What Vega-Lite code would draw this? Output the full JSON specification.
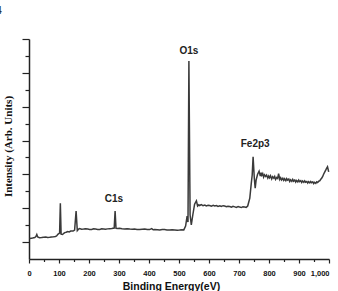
{
  "$schema": "https://vega.github.io/schema/vega-lite/v6.json",
  "width": 300,
  "height": 220,
  "autosize": "none",
  "padding": {"left": 29, "top": 39, "right": 9, "bottom": 32},
  "background": "white",
  "config": {
    "view": {"stroke": null},
    "axis": {"grid": false, "domainColor": "#222", "tickColor": "#222", "domainWidth": 1.5, "tickWidth": 1.2, "labelColor": "#111", "titleColor": "#111"}
  },
  "title": {"text": "4", "anchor": "start", "frame": "group", "dx": -33, "offset": 22, "fontSize": 10, "fontWeight": "bold", "color": "#333"},
  "datasets": {
    "spectrum": [
      {"eV": 2, "v": 1.21}, {"eV": 8, "v": 1.23}, {"eV": 12, "v": 1.24}, {"eV": 19, "v": 1.27}, {"eV": 23, "v": 1.33},
      {"eV": 26, "v": 1.45}, {"eV": 29, "v": 1.30}, {"eV": 35, "v": 1.26}, {"eV": 42, "v": 1.27}, {"eV": 49, "v": 1.29},
      {"eV": 56, "v": 1.30}, {"eV": 62, "v": 1.27}, {"eV": 69, "v": 1.28}, {"eV": 75, "v": 1.30}, {"eV": 82, "v": 1.31},
      {"eV": 88, "v": 1.33}, {"eV": 92, "v": 1.36}, {"eV": 97, "v": 1.47}, {"eV": 102, "v": 1.53}, {"eV": 104.5, "v": 3.29},
      {"eV": 107, "v": 1.47}, {"eV": 112, "v": 1.45}, {"eV": 116, "v": 1.52}, {"eV": 119, "v": 1.56}, {"eV": 124, "v": 1.58},
      {"eV": 129, "v": 1.62}, {"eV": 134, "v": 1.60}, {"eV": 139, "v": 1.65}, {"eV": 147, "v": 1.65}, {"eV": 152, "v": 1.71},
      {"eV": 157, "v": 2.83}, {"eV": 161, "v": 1.68}, {"eV": 165, "v": 1.76}, {"eV": 169, "v": 1.80}, {"eV": 175, "v": 1.76},
      {"eV": 182, "v": 1.77}, {"eV": 189, "v": 1.79}, {"eV": 196, "v": 1.77}, {"eV": 202, "v": 1.75}, {"eV": 209, "v": 1.74},
      {"eV": 215, "v": 1.78}, {"eV": 222, "v": 1.77}, {"eV": 229, "v": 1.75}, {"eV": 236, "v": 1.75}, {"eV": 242, "v": 1.78},
      {"eV": 249, "v": 1.77}, {"eV": 255, "v": 1.76}, {"eV": 262, "v": 1.78}, {"eV": 269, "v": 1.79}, {"eV": 276, "v": 1.80},
      {"eV": 284, "v": 1.83}, {"eV": 287, "v": 2.83}, {"eV": 290, "v": 1.81}, {"eV": 296, "v": 1.80}, {"eV": 302, "v": 1.81},
      {"eV": 310, "v": 1.79}, {"eV": 319, "v": 1.78}, {"eV": 327, "v": 1.79}, {"eV": 336, "v": 1.77}, {"eV": 344, "v": 1.76},
      {"eV": 352, "v": 1.77}, {"eV": 360, "v": 1.75}, {"eV": 369, "v": 1.75}, {"eV": 377, "v": 1.76}, {"eV": 386, "v": 1.77},
      {"eV": 394, "v": 1.74}, {"eV": 402, "v": 1.74}, {"eV": 409, "v": 1.80}, {"eV": 414, "v": 1.73}, {"eV": 419, "v": 1.74},
      {"eV": 428, "v": 1.73}, {"eV": 436, "v": 1.72}, {"eV": 444, "v": 1.74}, {"eV": 452, "v": 1.74}, {"eV": 460, "v": 1.72},
      {"eV": 469, "v": 1.71}, {"eV": 477, "v": 1.73}, {"eV": 486, "v": 1.72}, {"eV": 494, "v": 1.70}, {"eV": 502, "v": 1.71},
      {"eV": 510, "v": 1.73}, {"eV": 516, "v": 1.72}, {"eV": 522, "v": 1.95}, {"eV": 527, "v": 2.54}, {"eV": 530, "v": 2.18},
      {"eV": 533, "v": 11.70}, {"eV": 537, "v": 2.60}, {"eV": 541, "v": 2.01}, {"eV": 546, "v": 2.60}, {"eV": 552, "v": 3.24},
      {"eV": 558, "v": 3.44}, {"eV": 562, "v": 3.13}, {"eV": 566, "v": 3.20}, {"eV": 569, "v": 3.16}, {"eV": 574, "v": 3.21},
      {"eV": 580, "v": 3.15}, {"eV": 586, "v": 3.19}, {"eV": 591, "v": 3.14}, {"eV": 597, "v": 3.18}, {"eV": 602, "v": 3.16},
      {"eV": 608, "v": 3.12}, {"eV": 614, "v": 3.17}, {"eV": 619, "v": 3.13}, {"eV": 625, "v": 3.16}, {"eV": 630, "v": 3.11},
      {"eV": 636, "v": 3.14}, {"eV": 641, "v": 3.10}, {"eV": 647, "v": 3.15}, {"eV": 652, "v": 3.13}, {"eV": 658, "v": 3.09},
      {"eV": 663, "v": 3.12}, {"eV": 669, "v": 3.10}, {"eV": 675, "v": 3.06}, {"eV": 680, "v": 3.11}, {"eV": 686, "v": 3.08},
      {"eV": 691, "v": 3.05}, {"eV": 697, "v": 3.10}, {"eV": 702, "v": 3.07}, {"eV": 708, "v": 3.04}, {"eV": 713, "v": 3.09},
      {"eV": 719, "v": 3.07}, {"eV": 724, "v": 3.05}, {"eV": 729, "v": 3.13}, {"eV": 736, "v": 3.60}, {"eV": 741, "v": 4.48},
      {"eV": 744, "v": 4.96}, {"eV": 747, "v": 6.04}, {"eV": 751, "v": 4.78}, {"eV": 754, "v": 4.19}, {"eV": 757, "v": 4.66},
      {"eV": 762, "v": 5.01}, {"eV": 767, "v": 5.19}, {"eV": 771, "v": 4.90}, {"eV": 774, "v": 5.10}, {"eV": 776, "v": 4.95},
      {"eV": 779, "v": 5.05}, {"eV": 782, "v": 4.84}, {"eV": 785, "v": 4.98}, {"eV": 789, "v": 4.88}, {"eV": 792, "v": 4.96},
      {"eV": 796, "v": 4.78}, {"eV": 799, "v": 4.90}, {"eV": 802, "v": 4.80}, {"eV": 805, "v": 4.92}, {"eV": 809, "v": 4.73},
      {"eV": 812, "v": 4.86}, {"eV": 816, "v": 4.78}, {"eV": 819, "v": 4.88}, {"eV": 822, "v": 4.70}, {"eV": 826, "v": 4.82},
      {"eV": 829, "v": 4.76}, {"eV": 832, "v": 5.05}, {"eV": 836, "v": 4.70}, {"eV": 839, "v": 4.80}, {"eV": 842, "v": 4.67},
      {"eV": 846, "v": 4.77}, {"eV": 849, "v": 4.65}, {"eV": 852, "v": 4.74}, {"eV": 856, "v": 4.63}, {"eV": 859, "v": 4.75},
      {"eV": 862, "v": 4.66}, {"eV": 866, "v": 4.72}, {"eV": 869, "v": 4.58}, {"eV": 872, "v": 4.68}, {"eV": 876, "v": 4.59},
      {"eV": 879, "v": 4.70}, {"eV": 882, "v": 4.60}, {"eV": 886, "v": 4.67}, {"eV": 889, "v": 4.55}, {"eV": 892, "v": 4.64},
      {"eV": 896, "v": 4.56}, {"eV": 899, "v": 4.66}, {"eV": 902, "v": 4.57}, {"eV": 906, "v": 4.63}, {"eV": 909, "v": 4.52},
      {"eV": 912, "v": 4.61}, {"eV": 916, "v": 4.53}, {"eV": 919, "v": 4.62}, {"eV": 922, "v": 4.54}, {"eV": 926, "v": 4.58},
      {"eV": 929, "v": 4.49}, {"eV": 932, "v": 4.57}, {"eV": 936, "v": 4.50}, {"eV": 939, "v": 4.58}, {"eV": 942, "v": 4.51},
      {"eV": 946, "v": 4.56}, {"eV": 949, "v": 4.46}, {"eV": 952, "v": 4.53}, {"eV": 956, "v": 4.47}, {"eV": 959, "v": 4.56},
      {"eV": 962, "v": 4.52}, {"eV": 966, "v": 4.60}, {"eV": 969, "v": 4.62}, {"eV": 972, "v": 4.70}, {"eV": 976, "v": 4.78},
      {"eV": 979, "v": 4.88}, {"eV": 982, "v": 5.01}, {"eV": 986, "v": 5.15}, {"eV": 989, "v": 5.25}, {"eV": 992, "v": 5.36},
      {"eV": 995, "v": 5.45}, {"eV": 999, "v": 5.15}
    ],
    "labels": [
      {"eV": 533, "v": 12.29, "label": "O1s"},
      {"eV": 283, "v": 3.54, "label": "C1s"},
      {"eV": 754, "v": 6.78, "label": "Fe2p3"}
    ]
  },
  "layer": [
    {
      "data": {"name": "spectrum"},
      "mark": {"type": "line", "color": "#3a3a3a", "strokeWidth": 1.5, "interpolate": "linear"},
      "encoding": {
        "x": {
          "field": "eV", "type": "quantitative",
          "scale": {"domain": [0, 1000], "nice": false, "zero": false},
          "axis": {
            "values": [0, 50, 100, 150, 200, 250, 300, 350, 400, 450, 500, 550, 600, 650, 700, 750, 800, 850, 900, 950, 1000],
            "tickCount": 100,
            "labelExpr": "datum.value % 100 == 0 ? format(datum.value, ',') : ''",
            "tickSize": {"condition": {"test": "datum.value % 100 == 0", "value": 4}, "value": 2.5},
            "labelFlush": false,
            "labelOverlap": false,
            "labelAlign": {"condition": {"test": "datum.value == 1000", "value": "right"}, "value": "center"},
            "labelFont": "Liberation Sans", "labelFontSize": 7.5, "labelFontWeight": "bold", "labelPadding": 6,
            "title": "Binding Energy(eV)", "titleFont": "Liberation Sans", "titleFontSize": 10.5, "titleFontWeight": "bold",
            "titleX": 142, "titleY": 30, "titleAlign": "center", "titleBaseline": "alphabetic"
          }
        },
        "y": {
          "field": "v", "type": "quantitative",
          "scale": {"domain": [0, 13], "nice": false},
          "axis": {
            "values": [1, 2, 3, 4, 5, 6, 7, 8, 9, 10, 11, 12, 13],
            "tickCount": 100,
            "labels": false,
            "tickSize": {"condition": {"test": "datum.value % 2 == 1", "value": 7}, "value": 4},
            "title": "Intensity (Arb. Units)", "titleFont": "Liberation Serif", "titleFontSize": 11, "titleFontWeight": "bold",
            "titleX": -21, "titleY": 107, "titleAngle": -90, "titleAlign": "center", "titleBaseline": "middle"
          }
        }
      }
    },
    {
      "data": {"name": "labels"},
      "mark": {"type": "text", "font": "Liberation Sans", "fontWeight": "bold", "fontSize": 10, "color": "#222", "baseline": "middle", "align": "center"},
      "encoding": {
        "x": {"field": "eV", "type": "quantitative"},
        "y": {"field": "v", "type": "quantitative"},
        "text": {"field": "label"}
      }
    }
  ]
}
